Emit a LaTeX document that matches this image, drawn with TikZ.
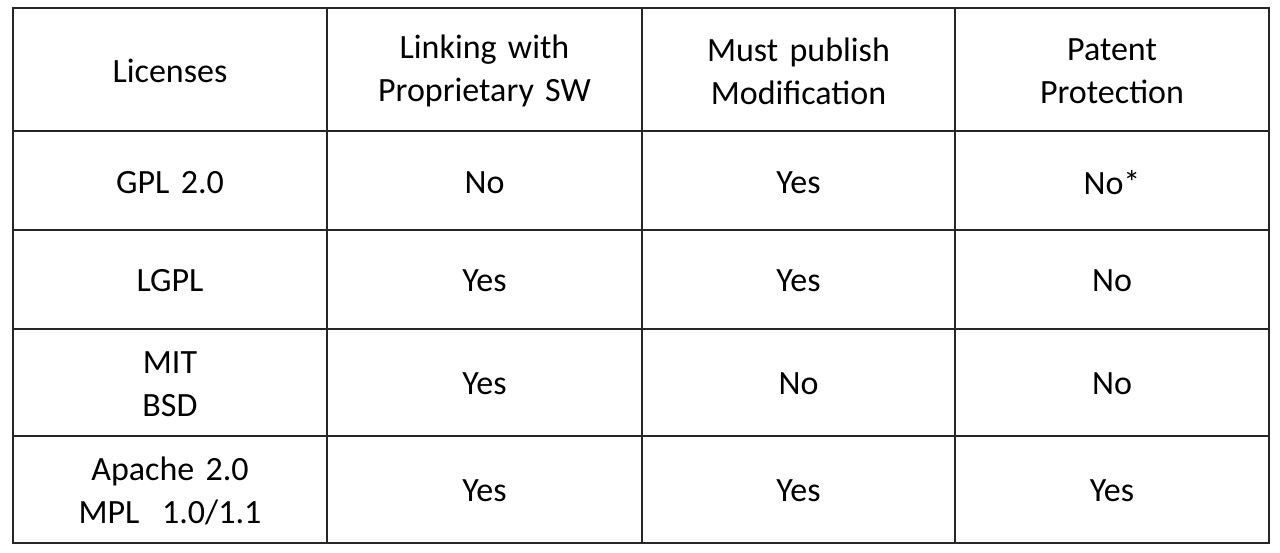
\documentclass[tikz,border=0pt]{standalone}
\usepackage{fontspec}
\setmainfont{Carlito}
\usetikzlibrary{positioning}

\begin{document}
\begin{tikzpicture}[
                  x=1pt, y=-1pt,
                  cell/.style={text width=300pt, align=center, font=\fontsize{34}{43}\selectfont},
                  grid/.style={draw, line width=2pt, black!85}
            ]
            \useasboundingbox (0,0) rectangle (1280,553);

            % Header
            \node [cell] (head) at (170,71) {Licenses};
            \node [cell] (link) at (484.5,71) {Linking with\\ Proprietary SW};
            \node [cell] (publ) at (798.5,71) {Must publish\\ Modification};
            \node [cell] (pat) at (1112,71) {Patent\\ Protection};

            % GPL
            \node [cell] (gpl) at (170,183) {GPL 2.0};
            \node [cell] (gpllink) at (484.5,183) {No};
            \node [cell] (gplpubl) at (798.5,183) {Yes};
            \node [cell] (gplpat) at (1112,183) {No*};

            % LGPL
            \node [cell] (lgpl) at (170,281) {LGPL};
            \node [cell] (lgpllink) at (484.5,281) {Yes};
            \node [cell] (lgplpubl) at (798.5,281) {Yes};
            \node [cell] (lgplpat) at (1112,281) {No};

            % MIT / BSD
            \node [cell] (mit) at (170,384) {MIT\\ BSD};
            \node [cell] (mitlink) at (484.5,384) {Yes};
            \node [cell] (mitpubl) at (798.5,384) {No};
            \node [cell] (mitpat) at (1112,384) {No};

            % Apache / MPL
            \node [cell] (apache) at (170,491) {Apache 2.0\\ MPL~~1.0/1.1};
            \node [cell] (apachelink) at (484.5,491) {Yes};
            \node [cell] (apachepubl) at (798.5,491) {Yes};
            \node [cell] (apachepat) at (1112,491) {Yes};

            % Grid
            \path [grid] (13,8) rectangle (1269,543);
            \path [grid] (327,8) -- (327,543);
            \path [grid] (642,8) -- (642,543);
            \path [grid] (955,8) -- (955,543);
            \path [grid] (13,131) -- (1269,131);
            \path [grid] (13,230) -- (1269,230);
            \path [grid] (13,329) -- (1269,329);
            \path [grid] (13,436) -- (1269,436);
      \end{tikzpicture}
\end{document}
